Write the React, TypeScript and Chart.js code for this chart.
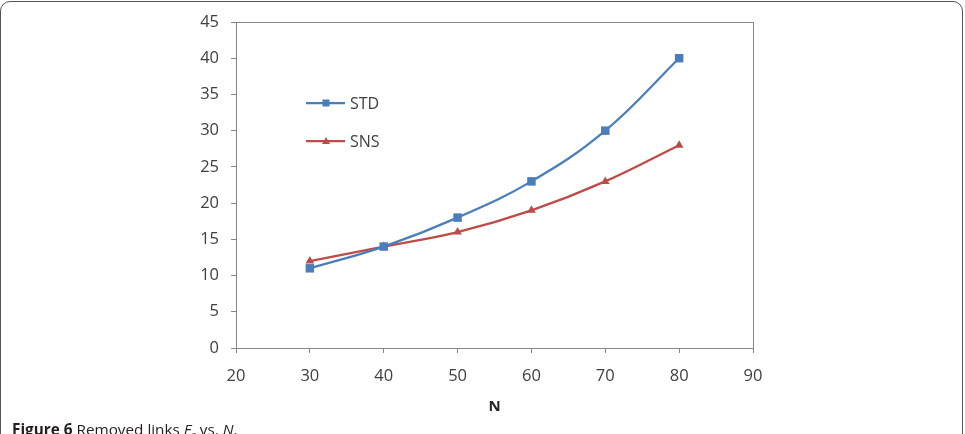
import React, { useEffect, useRef } from "react";
import { Chart, registerables } from "chart.js";

Chart.register(...registerables);

// Network size N on the x axis
const nValues = [30, 40, 50, 60, 70, 80];
// Removed links for each scheme
const stdValues = [11, 14, 18, 23, 30, 40];
const snsValues = [12, 14, 16, 19, 23, 28];

const xTicks = { min: 20, max: 90, step: 10 };
const yTicks = { min: 0, max: 45, step: 5 };

const STD_COLOR = "#4A7EBB";
const SNS_COLOR = "#BE4B48";
const AXIS_COLOR = "#868686";
const TEXT_COLOR = "#404040";
const FONT = "'Open Sans', 'Noto Sans', sans-serif";

// Draws the frame around the plot area and the in-plot legend
const framePlugin = {
  id: "frameAndLegend",
  afterDatasetsDraw(chart: any) {
    const { ctx, chartArea } = chart;
    ctx.save();
    ctx.strokeStyle = AXIS_COLOR;
    ctx.lineWidth = 1;
    ctx.strokeRect(
      Math.round(chartArea.left) + 0.5,
      Math.round(chartArea.top) + 0.5,
      Math.round(chartArea.right - chartArea.left),
      Math.round(chartArea.bottom - chartArea.top)
    );

    const items = chart.data.datasets.map((ds: any) => ({
      label: ds.label,
      color: ds.borderColor,
      style: ds.pointStyle,
    }));
    const x0 = chartArea.left + 70;
    const yStart = chartArea.top + 81;
    const gap = 38;
    items.forEach((it: any, i: number) => {
      const y = yStart + i * gap;
      ctx.strokeStyle = it.color;
      ctx.fillStyle = it.color;
      ctx.lineWidth = 2.25;
      ctx.beginPath();
      ctx.moveTo(x0, y);
      ctx.lineTo(x0 + 39, y);
      ctx.stroke();
      const mx = x0 + 20;
      ctx.beginPath();
      if (it.style === "rect") {
        ctx.rect(mx - 3.5, y - 3.5, 7, 7);
      } else {
        ctx.moveTo(mx, y - 4);
        ctx.lineTo(mx + 4, y + 3);
        ctx.lineTo(mx - 4, y + 3);
        ctx.closePath();
      }
      ctx.fill();
      ctx.fillStyle = TEXT_COLOR;
      ctx.font = `16px ${FONT}`;
      ctx.textBaseline = "middle";
      ctx.textAlign = "left";
      ctx.fillText(it.label, x0 + 44, y + 1);
    });
    ctx.restore();
  },
};

export default function App() {
  const canvasRef = useRef<HTMLCanvasElement | null>(null);

  useEffect(() => {
    document.body.style.margin = "0";
    const canvas = canvasRef.current;
    if (!canvas) return;

    const chart = new Chart(canvas, {
      type: "line",
      data: {
        datasets: [
          {
            label: "STD",
            data: nValues.map((n, i) => ({ x: n, y: stdValues[i] })),
            borderColor: STD_COLOR,
            backgroundColor: STD_COLOR,
            borderWidth: 2.25,
            pointStyle: "rect",
            pointRadius: 6,
            pointBorderWidth: 0,
            tension: 0.4,
          },
          {
            label: "SNS",
            data: nValues.map((n, i) => ({ x: n, y: snsValues[i] })),
            borderColor: SNS_COLOR,
            backgroundColor: SNS_COLOR,
            borderWidth: 2.25,
            pointStyle: "triangle",
            pointRadius: 5,
            pointBorderWidth: 0,
            tension: 0.4,
          },
        ],
      },
      options: {
        animation: false,
        responsive: false,
        maintainAspectRatio: false,
        layout: { padding: { left: 176, top: 22, right: 212, bottom: 14 } },
        plugins: {
          legend: { display: false },
          tooltip: { enabled: false },
        },
        scales: {
          x: {
            type: "linear",
            min: xTicks.min,
            max: xTicks.max,
            ticks: {
              stepSize: xTicks.step,
              color: TEXT_COLOR,
              font: { family: FONT, size: 16.5 },
              padding: 13,
              maxRotation: 0,
            },
            grid: {
              drawOnChartArea: false,
              drawTicks: true,
              tickLength: 5,
              color: AXIS_COLOR,
            },
            border: { color: AXIS_COLOR },
            title: {
              display: true,
              text: "N",
              color: "#262626",
              font: { family: FONT, size: 15, weight: "bold" },
              padding: { top: 6 },
            },
            afterFit: (axis: any) => {
              axis.height = 72;
            },
          },
          y: {
            type: "linear",
            min: yTicks.min,
            max: yTicks.max,
            ticks: {
              stepSize: yTicks.step,
              color: TEXT_COLOR,
              font: { family: FONT, size: 16.5 },
              padding: 12,
            },
            grid: {
              drawOnChartArea: false,
              drawTicks: true,
              tickLength: 5,
              color: AXIS_COLOR,
            },
            border: { color: AXIS_COLOR },
            afterFit: (axis: any) => {
              axis.width = 60;
            },
          },
        },
      },
      plugins: [framePlugin],
    });

    return () => chart.destroy();
  }, []);

  return (
    <div
      style={{
        position: "relative",
        width: 965,
        height: 434,
        overflow: "hidden",
        background: "#fff",
      }}
    >
      <div
        style={{
          position: "absolute",
          left: 0,
          top: 1,
          width: 963,
          height: 480,
          border: "1.5px solid #555",
          borderRadius: 10,
          boxSizing: "border-box",
        }}
      />
      <canvas
        ref={canvasRef}
        width={965}
        height={434}
        style={{ position: "absolute", left: 0, top: 0, width: 965, height: 434 }}
      />
      <div
        style={{
          position: "absolute",
          left: 12,
          top: 419,
          fontFamily: FONT,
          fontSize: 15.3,
          color: "#231f20",
          whiteSpace: "nowrap",
        }}
      >
        <b>Figure 6</b> Removed links <i>E</i>
        <sub style={{ fontSize: 10 }}>r</sub> vs. <i>N</i>.
      </div>
    </div>
  );
}
